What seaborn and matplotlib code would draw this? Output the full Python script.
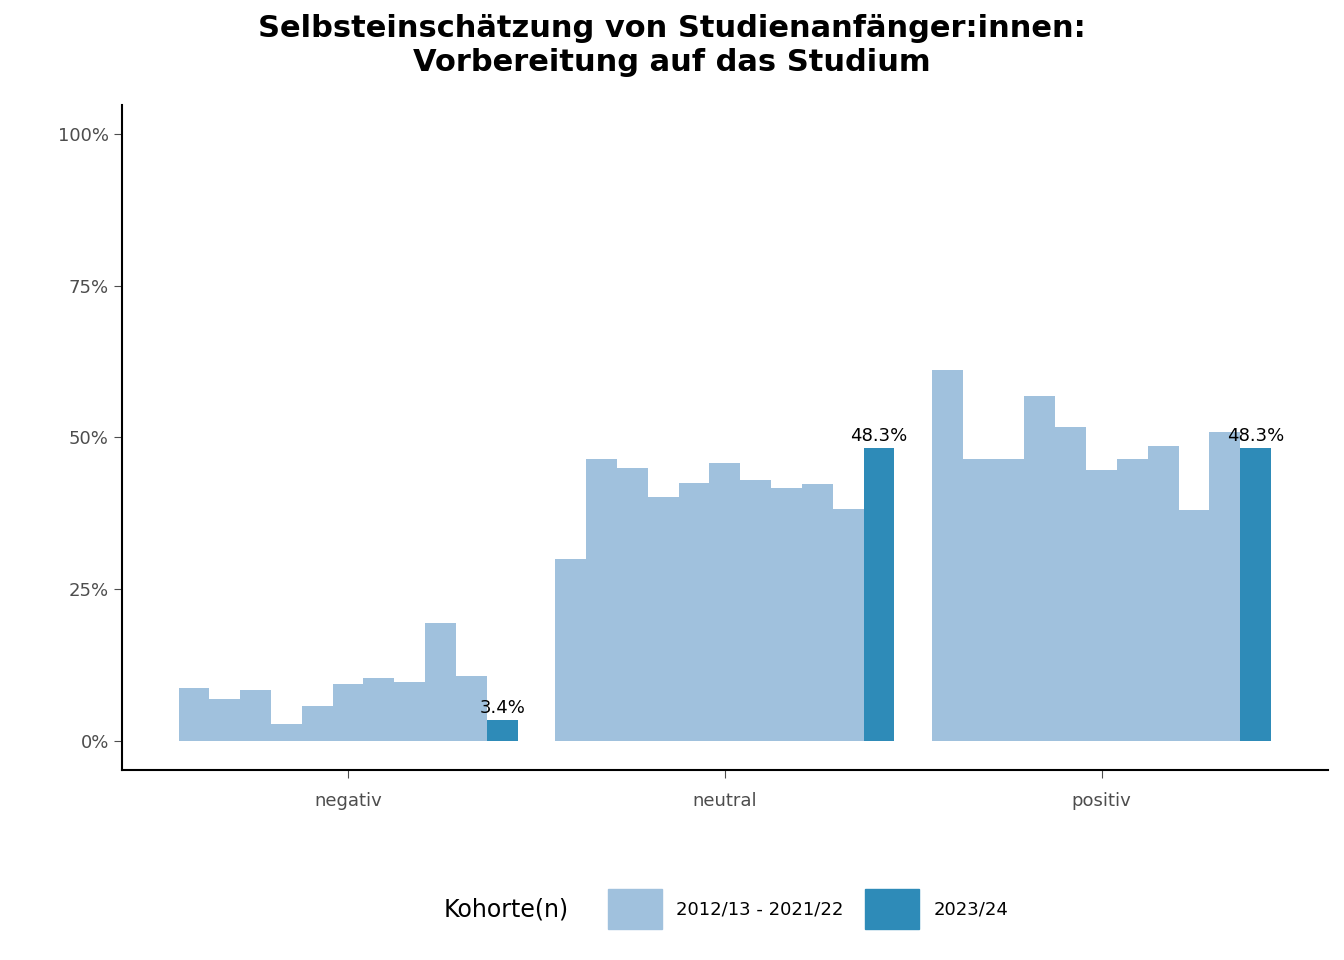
import pandas as pd
import matplotlib.pyplot as plt
import seaborn as sns
from matplotlib.patches import Patch

categories = ['negativ', 'neutral', 'positiv']
cohorts = ['2012/13', '2013/14', '2014/15', '2015/16', '2016/17', '2017/18',
           '2018/19', '2019/20', '2020/21', '2021/22', '2023/24']
negativ = [8.7, 6.9, 8.4, 2.8, 5.8, 9.4, 10.4, 9.7, 19.4, 10.7, 3.4]
neutral = [30.0, 46.5, 45.0, 40.2, 42.5, 45.8, 43.0, 41.7, 42.3, 38.2, 48.3]
positiv = [61.1, 46.5, 46.5, 56.8, 51.7, 44.6, 46.5, 48.6, 38.1, 50.9, 48.3]

LIGHT = '#A0C1DD'
DARK = '#2E8BB8'

rows = []
for cat, vals in zip(categories, [negativ, neutral, positiv]):
    for coh, v in zip(cohorts, vals):
        rows.append({'cat': cat, 'kohorte': coh, 'val': v})
df = pd.DataFrame(rows)
palette = {c: LIGHT for c in cohorts[:-1]}
palette[cohorts[-1]] = DARK

fig = plt.figure(figsize=(13.44, 9.6), dpi=100)
ax = fig.add_axes([0.0908, 0.198, 0.897, 0.693])
sns.barplot(data=df, x='cat', y='val', hue='kohorte', hue_order=cohorts,
            order=categories, palette=palette, width=0.9, dodge=True,
            saturation=1, legend=False, errorbar=None, ax=ax)

# labels on current cohort
last = ax.containers[-1]
ax.bar_label(last, labels=[f'{v:.1f}%' for v in df[df.kohorte == cohorts[-1]].val],
             fontsize=13, padding=2)

ax.set_xlim(-0.6, 2.6)
ax.set_ylim(-4.8, 104.8)
ax.set_yticks([0, 25, 50, 75, 100])
ax.set_yticklabels(['0%', '25%', '50%', '75%', '100%'])
ax.set_xlabel('')
ax.set_ylabel('')
ax.tick_params(labelsize=13, colors='#4D4D4D', length=6)
ax.tick_params(axis='x', pad=10)
for s in ['top', 'right']:
    ax.spines[s].set_visible(False)
for s in ['left', 'bottom']:
    ax.spines[s].set_linewidth(1.5)

fig.suptitle('Selbsteinschätzung von Studienanfänger:innen:\nVorbereitung auf das Studium',
             fontsize=22, fontweight='bold', y=0.985)

fig.text(0.33, 0.053, 'Kohorte(n)', fontsize=17, va='center')
handles = [Patch(color=LIGHT, label='2012/13 - 2021/22'), Patch(color=DARK, label='2023/24')]
fig.legend(handles=handles, loc='center left', bbox_to_anchor=(0.44, 0.053), ncol=2,
           frameon=False, fontsize=13, handlelength=3, handleheight=3, columnspacing=1.2)

fig.savefig('out.png', dpi=100)
